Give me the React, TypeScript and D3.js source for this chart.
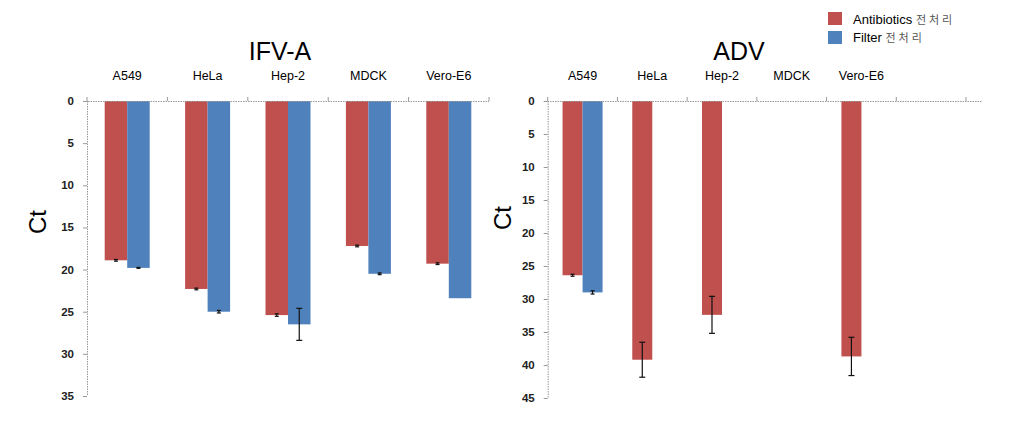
import React from "react";
import * as d3 from "d3";

const categories = ["A549", "HeLa", "Hep-2", "MDCK", "Vero-E6"];
const seriesNames = ["Antibiotics", "Filter"];
const seriesColors = ["#C0504D", "#4F81BD"];

const ifvAntibiotics = [18.9, 22.3, 25.4, 17.2, 19.3];
const ifvAntibioticsErr = [0.1, 0.1, 0.15, 0.1, 0.1];
const ifvFilter = [19.8, 25.0, 26.5, 20.5, 23.4];
const ifvFilterErr = [0.05, 0.15, 1.9, 0.1, 0];

const advAntibiotics: (number | null)[] = [26.4, 39.2, 32.4, null, 38.7];
const advAntibioticsErr: (number | null)[] = [0.15, 2.65, 2.8, null, 2.9];
const advFilter: (number | null)[] = [29.0, null, null, null, null];
const advFilterErr: (number | null)[] = [0.25, null, null, null, null];

const ifvTicks = [0, 5, 10, 15, 20, 25, 30, 35];
const advTicks = [0, 5, 10, 15, 20, 25, 30, 35, 40, 45];

const FONT = "Liberation Sans, Arial, sans-serif";

type PanelProps = {
  title: string;
  titleX: number;
  x0: number;
  x1: number;
  lineLeft: number;
  lineRight: number;
  nBands: number;
  barW: number;
  yMax: number;
  yBottom: number;
  ticks: number[];
  series: (number | null)[][];
  errors: (number | null)[][];
  ctX: number;
  ctY: number;
};

function Panel(p: PanelProps) {
  const top = 101;
  const domain = [...categories];
  while (domain.length < p.nBands) domain.push("__empty" + domain.length);
  const x = d3.scaleBand<string>().domain(domain).range([p.x0, p.x1]).padding(0);
  const xs = d3
    .scaleBand<string>()
    .domain(seriesNames)
    .range([0, p.barW * 2])
    .padding(0);
  const y = d3.scaleLinear().domain([0, p.yMax]).range([top, p.yBottom]);
  const bw = x.bandwidth();
  const off = (bw - p.barW * 2) / 2;
  const boundaries = domain.map((d) => x(d)!).concat([p.x1]);

  return (
    <g>
      <text
        x={p.titleX}
        y={60}
        textAnchor="middle"
        fontFamily={FONT}
        fontSize={25}
        fill="#000"
      >
        {p.title}
      </text>
      {categories.map((c) => (
        <text
          key={c}
          x={x(c)! + bw / 2}
          y={80}
          textAnchor="middle"
          fontFamily={FONT}
          fontSize={12.5}
          fill="#000"
        >
          {c}
        </text>
      ))}
      {p.series.map((vals, si) =>
        vals.map((v, ci) =>
          v == null ? null : (
            <rect
              key={`b${si}-${ci}`}
              x={x(categories[ci])! + off + xs(seriesNames[si])!}
              y={y(0)}
              width={xs.bandwidth()}
              height={y(v) - y(0)}
              fill={seriesColors[si]}
            />
          )
        )
      )}
      {p.series.map((vals, si) =>
        vals.map((v, ci) => {
          const e = p.errors[si][ci];
          if (v == null || e == null || e <= 0) return null;
          const cx =
            x(categories[ci])! + off + xs(seriesNames[si])! + xs.bandwidth() / 2;
          const cap = e > 0.5 ? 3 : 2;
          return (
            <g key={`e${si}-${ci}`} stroke="#111" strokeWidth={1.2}>
              <line x1={cx} x2={cx} y1={y(v - e)} y2={y(v + e)} />
              <line x1={cx - cap} x2={cx + cap} y1={y(v - e)} y2={y(v - e)} />
              <line x1={cx - cap} x2={cx + cap} y1={y(v + e)} y2={y(v + e)} />
            </g>
          );
        })
      )}
      <line
        x1={p.lineLeft}
        x2={p.lineRight}
        y1={top + 0.5}
        y2={top + 0.5}
        stroke="#999"
        strokeWidth={1}
        strokeDasharray="1.5 1"
      />
      {boundaries.map((b, i) => (
        <line
          key={`t${i}`}
          x1={b}
          x2={b}
          y1={top - 4}
          y2={top}
          stroke="#999"
          strokeWidth={1}
        />
      ))}
      <line
        x1={p.x0 + 0.5}
        x2={p.x0 + 0.5}
        y1={top}
        y2={p.yBottom}
        stroke="#999"
        strokeWidth={1}
        strokeDasharray="1.5 1"
      />
      {p.ticks.map((t) => (
        <g key={`yt${t}`}>
          <line
            x1={p.x0 - 4}
            x2={p.x0}
            y1={y(t) + 0.5}
            y2={y(t) + 0.5}
            stroke="#999"
            strokeWidth={1}
          />
          <text
            x={p.x0 - 13}
            y={y(t)}
            dy="0.35em"
            textAnchor="end"
            fontFamily={FONT}
            fontSize={11.5}
            fontWeight="bold"
            fill="#222"
          >
            {t}
          </text>
        </g>
      ))}
      <text
        transform={`translate(${p.ctX},${p.ctY}) rotate(-90)`}
        textAnchor="middle"
        dy="0.35em"
        fontFamily={FONT}
        fontSize={24}
        fill="#000"
      >
        Ct
      </text>
    </g>
  );
}

export default function App() {
  return (
    <svg
      width={1019}
      height={426}
      style={{ position: "absolute", left: 0, top: 0, background: "#fff" }}
    >
      <rect x={0} y={0} width={1019} height={426} fill="#fff" />
      <Panel
        title="IFV-A"
        titleX={280}
        x0={87}
        x1={489}
        lineLeft={83}
        lineRight={489}
        nBands={5}
        barW={22.5}
        yMax={35}
        yBottom={396}
        ticks={ifvTicks}
        series={[ifvAntibiotics, ifvFilter]}
        errors={[ifvAntibioticsErr, ifvFilterErr]}
        ctX={38}
        ctY={222}
      />
      <Panel
        title="ADV"
        titleX={739}
        x0={547.7}
        x1={966}
        lineLeft={545}
        lineRight={982}
        nBands={6}
        barW={20}
        yMax={45}
        yBottom={398}
        ticks={advTicks}
        series={[advAntibiotics, advFilter]}
        errors={[advAntibioticsErr, advFilterErr]}
        ctX={503}
        ctY={218}
      />
      {seriesNames.map((s, i) => (
        <g key={s}>
          <rect
            x={828}
            y={12 + i * 19}
            width={14}
            height={13}
            fill={seriesColors[i]}
          />
          <text
            x={853}
            y={19.5 + i * 18}
            dy="0.35em"
            fontFamily={FONT}
            fontSize={13}
            fill="#000"
          >
            {s + " "}
            <tspan
              fontFamily="Noto Sans CJK KR, sans-serif"
              fontSize={11}
              fill="#555"
              letterSpacing={3}
            >
              전처리
            </tspan>
          </text>
        </g>
      ))}
    </svg>
  );
}
